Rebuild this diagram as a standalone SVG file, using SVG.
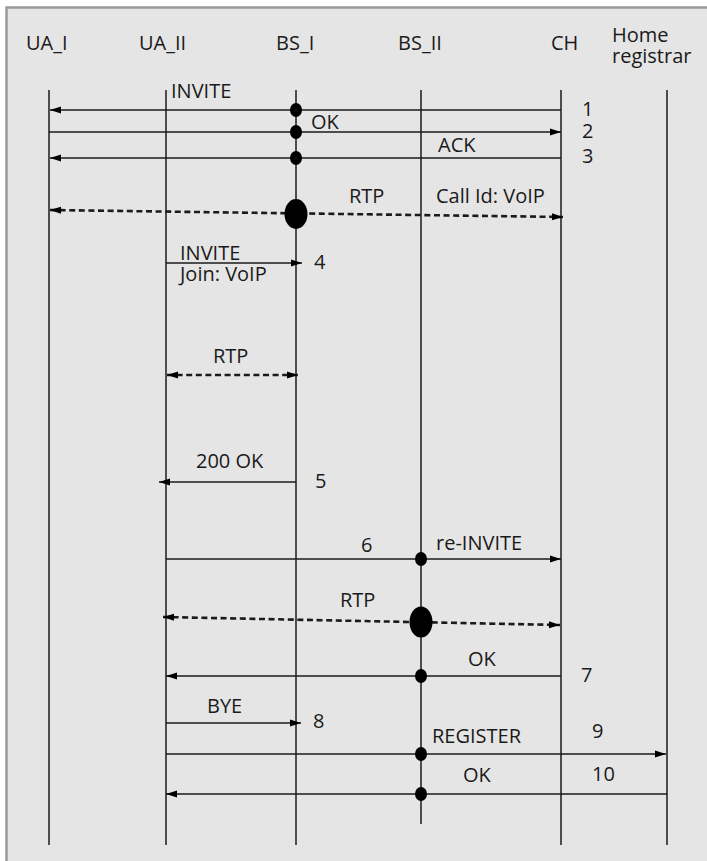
<svg xmlns="http://www.w3.org/2000/svg" width="707" height="861" viewBox="0 0 707 861">
<style>
text{font-family:"Open Sans","Liberation Sans",sans-serif;font-size:20px;fill:#1a1a1a}
.life{stroke:#1a1a1a;stroke-width:1.5;fill:none}
.msg{stroke:#1a1a1a;stroke-width:1.5;fill:none}
.rtp{stroke:#1a1a1a;stroke-width:2.6;fill:none;stroke-dasharray:6 3.6}
.dot{fill:#000}
</style>
<defs>
<marker id="ah" markerUnits="userSpaceOnUse" markerWidth="11" markerHeight="8" refX="11" refY="4" orient="auto-start-reverse" viewBox="0 0 11 8">
<path d="M0,0.5 L11,4 L0,7.5 z" fill="#000" stroke="none"/>
</marker>
</defs>
<rect x="0" y="0" width="707" height="861" fill="#fff"/>
<rect x="6.5" y="7.5" width="720" height="900" fill="#e5e5e5" stroke="#9a9a9a" stroke-width="2.5"/>

<g id="UA_I">
<text x="26" y="50">UA_I</text>
<line class="life" x1="49" y1="90" x2="49" y2="845"/>
</g>
<g id="UA_II">
<text x="139" y="50">UA_II</text>
<line class="life" x1="166" y1="90" x2="166" y2="845"/>
</g>
<g id="BS_I">
<text x="276" y="50">BS_I</text>
<line class="life" x1="296" y1="90" x2="296" y2="845"/>
</g>
<g id="BS_II">
<text x="398" y="50">BS_II</text>
<line class="life" x1="421" y1="90" x2="421" y2="824"/>
</g>
<g id="CH">
<text x="551" y="50">CH</text>
<line class="life" x1="561" y1="90" x2="561" y2="845"/>
</g>
<g id="Home_registrar">
<text x="612" y="42">Home</text>
<text x="612" y="63">registrar</text>
<line class="life" x1="667" y1="90" x2="667" y2="845"/>
</g>

<g id="connectors">
<!-- 1 -->
<line class="msg" x1="561" y1="110" x2="50" y2="110" marker-end="url(#ah)"/>
<ellipse class="dot" cx="296" cy="110" rx="6" ry="7"/>
<text x="171" y="98">INVITE</text>
<text x="582" y="116">1</text>
<!-- 2 -->
<line class="msg" x1="49" y1="132" x2="561" y2="132" marker-end="url(#ah)"/>
<ellipse class="dot" cx="296" cy="132" rx="6" ry="7"/>
<text x="311" y="129">OK</text>
<text x="582" y="138">2</text>
<!-- 3 -->
<line class="msg" x1="561" y1="158" x2="50" y2="158" marker-end="url(#ah)"/>
<ellipse class="dot" cx="296" cy="158" rx="6" ry="7"/>
<text x="438" y="152">ACK</text>
<text x="582" y="163">3</text>
<!-- RTP 1 -->
<line class="rtp" x1="50" y1="210" x2="563" y2="217" marker-start="url(#ah)" marker-end="url(#ah)"/>
<ellipse class="dot" cx="296" cy="214" rx="11.5" ry="15"/>
<text x="349" y="203">RTP</text>
<text x="436" y="203">Call Id: VoIP</text>
<!-- 4 -->
<line class="msg" x1="166" y1="263" x2="302" y2="263" marker-end="url(#ah)"/>
<text x="180" y="260">INVITE</text>
<text x="180" y="281">Join: VoIP</text>
<text x="314" y="269">4</text>
<!-- RTP 2 -->
<line class="rtp" x1="167" y1="375" x2="298" y2="375" marker-start="url(#ah)" marker-end="url(#ah)"/>
<text x="213" y="363">RTP</text>
<!-- 5 -->
<line class="msg" x1="296" y1="482" x2="159" y2="482" marker-end="url(#ah)"/>
<text x="196" y="468">200 OK</text>
<text x="315" y="488">5</text>
<!-- 6 -->
<line class="msg" x1="166" y1="559" x2="561" y2="559" marker-end="url(#ah)"/>
<ellipse class="dot" cx="421" cy="559" rx="6" ry="7"/>
<text x="361" y="552">6</text>
<text x="436" y="550">re-INVITE</text>
<!-- RTP 3 -->
<line class="rtp" x1="163" y1="617" x2="560" y2="625" marker-start="url(#ah)" marker-end="url(#ah)"/>
<ellipse class="dot" cx="421" cy="622" rx="11.5" ry="15.5"/>
<text x="340" y="607">RTP</text>
<!-- 7 -->
<line class="msg" x1="561" y1="676" x2="166" y2="676" marker-end="url(#ah)"/>
<ellipse class="dot" cx="421" cy="676" rx="6" ry="7"/>
<text x="468" y="666">OK</text>
<text x="581" y="682">7</text>
<!-- 8 -->
<line class="msg" x1="166" y1="723" x2="301" y2="723" marker-end="url(#ah)"/>
<text x="207" y="713">BYE</text>
<text x="313" y="728">8</text>
<!-- 9 -->
<line class="msg" x1="166" y1="754" x2="666" y2="754" marker-end="url(#ah)"/>
<ellipse class="dot" cx="421" cy="754" rx="6" ry="7"/>
<text x="432" y="743">REGISTER</text>
<text x="592" y="738">9</text>
<!-- 10 -->
<line class="msg" x1="667" y1="794" x2="166" y2="794" marker-end="url(#ah)"/>
<ellipse class="dot" cx="421" cy="794" rx="6" ry="7"/>
<text x="463" y="782">OK</text>
<text x="592" y="781">10</text>
</g>
</svg>
